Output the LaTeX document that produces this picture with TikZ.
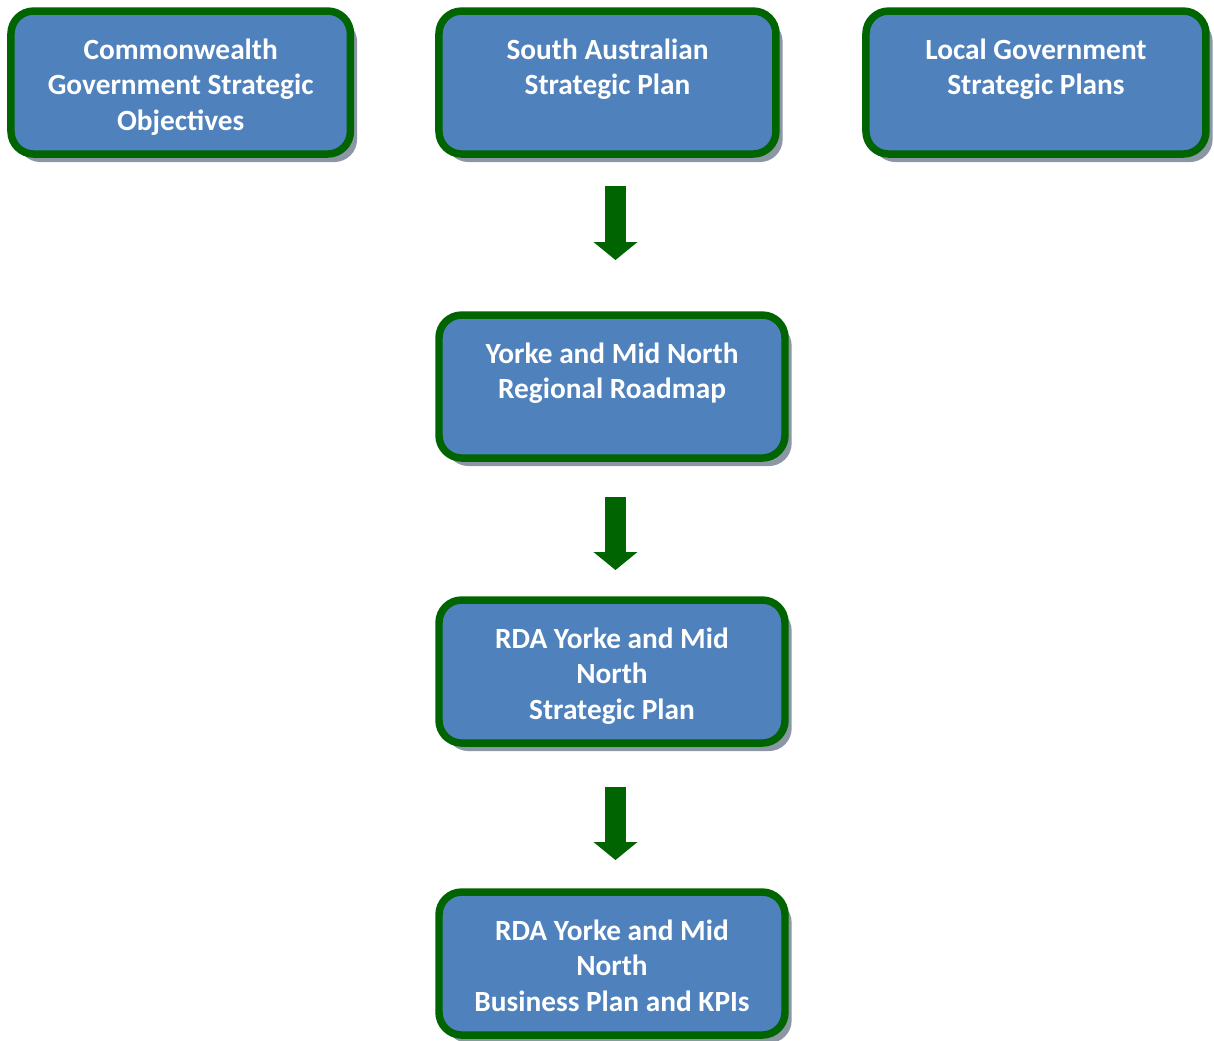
\documentclass[tikz,border=0pt]{standalone}
\usepackage{fontspec}
\setmainfont{Carlito}
\usepackage{xcolor}
\usepackage{tikz}
\usetikzlibrary{arrows.meta,positioning,shadows}

\definecolor{planblue}{RGB}{79,129,189}
\definecolor{plangreen}{RGB}{0,100,0}
\definecolor{shadowgray}{RGB}{140,151,166}

\begin{document}
\begin{tikzpicture}[font=\fontsize{22pt}{26.7pt}\selectfont\bfseries,
  box/.style={draw=plangreen, line width=5.6pt, fill=planblue, text=white, rounded corners=17pt, align=center,
    minimum width=259.5pt, minimum height=107.25pt, inner ysep=0pt, outer sep=0pt,
    drop shadow={shadow xshift=5pt, shadow yshift=-6pt, fill=shadowgray, opacity=1}},
  twolines/.style={text height=62.7pt, text depth=44.55pt},
  threelines/.style={text height=89.4pt, text depth=17.85pt},
  bigarr/.style={-{Triangle[width=32.25pt, length=13.5pt]}, line width=15.75pt, draw=plangreen, shorten <=24pt}]
\useasboundingbox (0,0) rectangle (910.5pt,-780pt);
\node[box, twolines, minimum width=252.75pt] (sa) at (455.6pt,-61.9pt) {South Australian\\Strategic Plan};
\node[box, threelines, minimum width=254.6pt, left=66.4pt of sa] (cw) {Commonwealth\\Government Strategic\\Objectives};
\node[box, twolines, minimum width=255pt, right=67.5pt of sa] (lg) {Local Government\\Strategic Plans};
\node[box, twolines, below=120.75pt of sa, xshift=3.4pt] (rm) {Yorke and Mid North\\Regional Roadmap};
\node[box, threelines, below=106.5pt of rm] (sp) {RDA Yorke and Mid\\North\\Strategic Plan};
\node[box, threelines, below=111.75pt of sp] (bp) {RDA Yorke and Mid\\North\\Business Plan and KPIs};
% block arrows down the middle
\draw[bigarr, shorten >=41.25pt] ([xshift=2.6pt]sa.south -| rm) -- ([xshift=2.6pt]rm.north);
\draw[bigarr, shorten <=29.25pt, shorten >=22.5pt] ([xshift=2.6pt]rm.south) -- ([xshift=2.6pt]sp.north);
\draw[bigarr, shorten <=33pt, shorten >=24pt] ([xshift=2.6pt]sp.south) -- ([xshift=2.6pt]bp.north);
\end{tikzpicture}
\end{document}
